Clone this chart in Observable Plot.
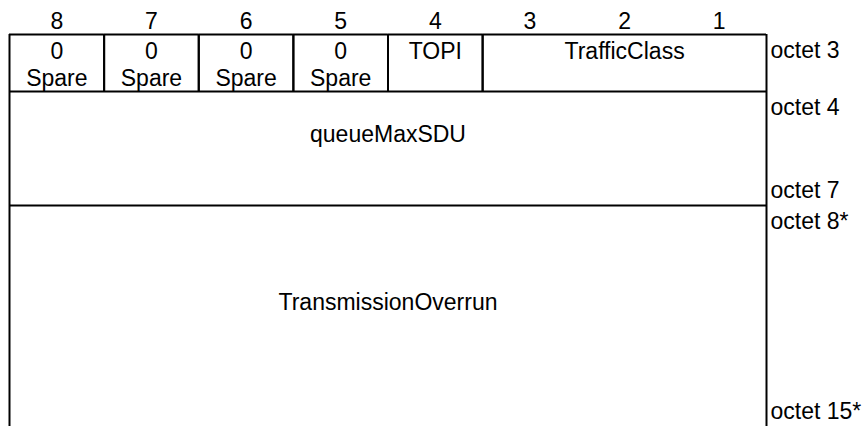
<!DOCTYPE html>
<html>
<head>
<meta charset="utf-8">
<script src="https://cdn.jsdelivr.net/npm/d3@7"></script>
<script src="https://cdn.jsdelivr.net/npm/@observablehq/plot@0.6"></script>
<style>
  html, body { margin: 0; padding: 0; background: #fff; }
</style>
</head>
<body>
<div id="chart"></div>
<script>
// Bit numbers across the top
const bits = [8, 7, 6, 5, 4, 3, 2, 1];

// Fields of the information element
const fieldLabels = ["0\nSpare", "0\nSpare", "0\nSpare", "0\nSpare", "TOPI", "TrafficClass", "queueMaxSDU", "TransmissionOverrun"];
const fieldBitHigh = [8, 7, 6, 5, 4, 3, 8, 8];
const fieldBitLow = [8, 7, 6, 5, 4, 1, 1, 1];
const fieldOctetFirst = [3, 3, 3, 3, 3, 3, 4, 8];
const fieldOctetLast = [3, 3, 3, 3, 3, 3, 7, 15];

// Octet labels on the right
const octetLabels = ["octet 3", "octet 4", "octet 7", "octet 8*", "octet 15*"];
const octetNumbers = [3, 4, 7, 8, 15];
const octetIsLast = [false, false, true, false, true];

const fields = fieldLabels.map((label, i) => ({
  label, high: fieldBitHigh[i], low: fieldBitLow[i],
  first: fieldOctetFirst[i], last: fieldOctetLast[i]
}));
const octets = octetLabels.map((label, i) => ({label, octet: octetNumbers[i], last: octetIsLast[i]}));

// row layout: octet boundary -> vertical position (piecewise, rows are not proportional)
const rowLayout = d3.scaleLinear().domain([2, 3, 4, 8, 16]).range([0, 34, 91, 205, 426]);

const font = "Liberation Sans, Arial, Helvetica, sans-serif";
const fs = 23;

const chart = Plot.plot({
  width: 862,
  height: 426,
  margin: 0,
  style: {fontFamily: font, fontSize: fs + "px", background: "#fff", color: "#000"},
  x: {domain: [8.5, 0.5], range: [9, 766], axis: null},
  y: {type: "linear", transform: rowLayout, domain: [0, 426], range: [0, 426], axis: null},
  marks: [
    // top edge of each field
    Plot.ruleY(fields, {y: d => d.first, x1: d => d.high + 0.5, x2: d => d.low - 0.5, stroke: "#000", strokeWidth: 2}),
    // left and right edges of each field
    Plot.ruleX(fields, {x: d => d.high + 0.5, y1: d => d.first, y2: d => d.last + 1, stroke: "#000", strokeWidth: 2}),
    Plot.ruleX(fields, {x: d => d.low - 0.5, y1: d => d.first, y2: d => d.last + 1, stroke: "#000", strokeWidth: 2}),
    // bit numbers
    Plot.text(bits, {x: d => d, y: 3, text: d => String(d), dy: -13, fontSize: fs, fill: "#000", lineAnchor: "middle"}),
    // single-octet fields: text starts at the top of the cell
    Plot.text(fields.filter(d => d.first === d.last), {
      x: d => (d.high + d.low) / 2, y: d => d.first, text: "label",
      lineAnchor: "top", dy: 5, lineHeight: 1.17, fontSize: fs, fill: "#000"
    }),
    // multi-octet fields
    Plot.text(fields.filter(d => d.first !== d.last), {
      x: d => (d.high + d.low) / 2, y: d => (d.first + d.last) / 2, text: "label",
      lineAnchor: "middle", fontSize: fs, fill: "#000"
    }),
    // octet labels at the start of a field
    Plot.text(octets.filter(d => !d.last), {
      x: 0.5, y: d => d.octet, text: "label",
      textAnchor: "start", dx: 4, dy: 16,
      lineAnchor: "middle", fontSize: fs, fill: "#000"
    }),
    // octet labels at the end of a field
    Plot.text(octets.filter(d => d.last), {
      x: 0.5, y: d => d.octet + 1, text: "label",
      textAnchor: "start", dx: 4, dy: -15,
      lineAnchor: "middle", fontSize: fs, fill: "#000"
    })
  ]
});
document.getElementById("chart").appendChild(chart);
</script>
</body>
</html>
